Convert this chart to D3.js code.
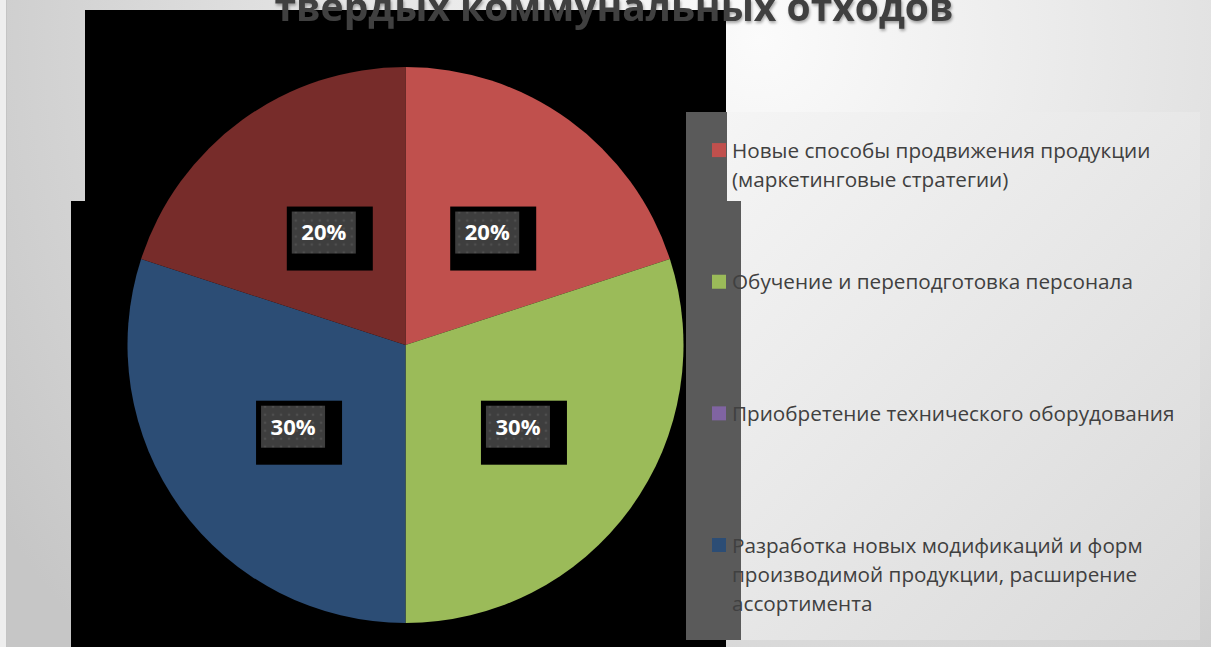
<!DOCTYPE html>
<html>
<head>
<meta charset="utf-8">
<script src="https://cdn.jsdelivr.net/npm/d3@7"></script>
<style>
  html, body { margin: 0; padding: 0; overflow: hidden; }
  svg { display: block; }
</style>
</head>
<body>
<svg id="chart" width="1211" height="647"></svg>
<script>
// ---- data ----
const titleText = "твердых коммунальных отходов";
const categories = [
  "Новые способы продвижения продукции (маркетинговые стратегии)",
  "Обучение и переподготовка персонала",
  "Приобретение технического оборудования",
  "Разработка новых модификаций и форм производимой продукции, расширение ассортимента",
  ""
];
const legendLines = [
  ["Новые способы продвижения продукции", "(маркетинговые стратегии)"],
  ["Обучение и переподготовка персонала"],
  ["Приобретение технического оборудования"],
  ["Разработка новых модификаций и форм", "производимой продукции, расширение", "ассортимента"]
];
const values = [20, 30, 0, 30, 20];
const colors = ["#C0504D", "#9BBB59", "#8064A2", "#2C4D75", "#772C2A"];

// ---- drawing ----
const W = 1211, H = 647;
const svg = d3.select("#chart");
const defs = svg.append("defs");

const bg = defs.append("radialGradient").attr("id", "bg")
  .attr("gradientUnits", "userSpaceOnUse")
  .attr("cx", 760).attr("cy", 40).attr("r", 900);
bg.append("stop").attr("offset", 0).attr("stop-color", "#fbfbfb");
bg.append("stop").attr("offset", 0.55).attr("stop-color", "#e0e0e0");
bg.append("stop").attr("offset", 1).attr("stop-color", "#c6c6c6");

const lg = defs.append("linearGradient").attr("id", "lg")
  .attr("x1", 0).attr("y1", 0).attr("x2", 1).attr("y2", 1);
lg.append("stop").attr("offset", 0).attr("stop-color", "#f6f6f6");
lg.append("stop").attr("offset", 1).attr("stop-color", "#d9d9d9");

const pat = defs.append("pattern").attr("id", "dots")
  .attr("patternUnits", "userSpaceOnUse").attr("width", 8).attr("height", 8);
pat.append("rect").attr("width", 8).attr("height", 8).attr("fill", "#3e3e3e");
pat.append("circle").attr("cx", 4).attr("cy", 4).attr("r", 1.3).attr("fill", "#4f4f4f");

const shadow = defs.append("filter").attr("id", "tshadow")
  .attr("x", "-5%").attr("y", "-20%").attr("width", "110%").attr("height", "140%");
shadow.append("feGaussianBlur").attr("in", "SourceAlpha").attr("stdDeviation", 1.5).attr("result", "b");
shadow.append("feOffset").attr("dx", 1).attr("dy", 2).attr("result", "o");
shadow.append("feComponentTransfer").append("feFuncA").attr("type", "linear").attr("slope", 0.35);
const fm = shadow.append("feMerge");
fm.append("feMergeNode");
fm.append("feMergeNode").attr("in", "SourceGraphic");

// background
svg.append("rect").attr("width", W).attr("height", H).attr("fill", "url(#bg)");
svg.append("rect").attr("x", 0).attr("y", 0).attr("width", 6).attr("height", H).attr("fill", "#eeeeee");
svg.append("rect").attr("x", 6).attr("y", 0).attr("width", 1).attr("height", H).attr("fill", "#c4c4c4");

// black blocks
svg.append("rect").attr("x", 85).attr("y", 10).attr("width", 641).attr("height", H - 10).attr("fill", "#000");
svg.append("rect").attr("x", 71).attr("y", 201).attr("width", 14).attr("height", H - 201).attr("fill", "#000");

// title
svg.append("text")
  .attr("x", 614).attr("y", 21)
  .attr("text-anchor", "middle")
  .attr("font-family", "Open Sans, sans-serif")
  .attr("font-weight", "bold")
  .attr("font-size", 39)
  .attr("fill", "#404040")
  .attr("filter", "url(#tshadow)")
  .text(titleText);

// pie
const cx = 405.5, cy = 345, R = 278;
const pie = d3.pie().sort(null).value(d => d)
  .startAngle(0).endAngle(2 * Math.PI);
const arcs = pie(values);
const arc = d3.arc().innerRadius(0).outerRadius(R);
const color = d3.scaleOrdinal().domain(d3.range(values.length)).range(colors);

const g = svg.append("g").attr("transform", `translate(${cx},${cy})`);
g.selectAll("path.slice").data(arcs).join("path")
  .attr("class", "slice")
  .attr("d", arc)
  .attr("fill", (d, i) => color(i));

// data labels
const total = d3.sum(values);
const fmt = d3.format(".0%");
const labelData = arcs.filter(d => d.value > 0);
const lab = g.selectAll("g.lab").data(labelData).join("g")
  .attr("class", "lab")
  .attr("transform", d => { const c = arc.centroid(d); return `translate(${c[0]},${c[1]})`; });
lab.append("rect").attr("x", -37).attr("y", -26).attr("width", 86).attr("height", 64).attr("fill", "#000");
lab.append("rect").attr("x", -32).attr("y", -21).attr("width", 64).attr("height", 42).attr("fill", "url(#dots)");
lab.append("text")
  .attr("text-anchor", "middle")
  .attr("dy", "0.36em")
  .attr("font-family", "Open Sans, sans-serif")
  .attr("font-weight", "bold")
  .attr("font-size", 22)
  .attr("fill", "#ffffff")
  .text(d => fmt(d.value / total));

// legend box
svg.append("rect").attr("x", 686).attr("y", 112).attr("width", 514).attr("height", 528).attr("fill", "url(#lg)");
svg.append("rect").attr("x", 686).attr("y", 112).attr("width", 41).attr("height", 89).attr("fill", "#5a5a5a");
svg.append("rect").attr("x", 686).attr("y", 201).attr("width", 55).attr("height", 439).attr("fill", "#5a5a5a");

const legendY = d3.scaleLinear().domain([0, 3]).range([157.6, 552.5]);
const leg = svg.selectAll("g.leg").data(legendLines).join("g")
  .attr("class", "leg")
  .attr("transform", (d, i) => `translate(0,${legendY(i)})`);
leg.append("rect")
  .attr("x", 712).attr("y", -14.5).attr("width", 14).attr("height", 14)
  .attr("fill", (d, i) => color(i));
leg.append("text")
  .attr("x", 732)
  .attr("font-family", "Open Sans, sans-serif")
  .attr("font-size", 20.7)
  .attr("fill", "#404040")
  .selectAll("tspan").data(d => d).join("tspan")
  .attr("x", 732)
  .attr("y", (d, j) => j * 29.3)
  .text(d => d);
</script>
</body>
</html>
